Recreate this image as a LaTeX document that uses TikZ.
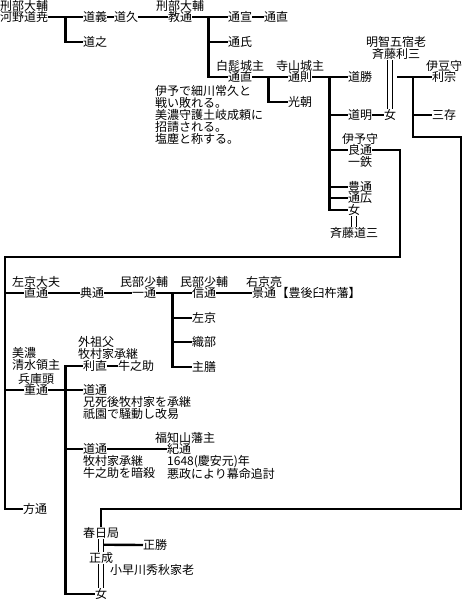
\documentclass[tikz,border=0pt]{standalone}
\usepackage{fontspec}
\setmainfont{Noto Sans CJK JP}
\usetikzlibrary{positioning, calc}

\begin{document}
\begin{tikzpicture}[x=1pt, y=-1pt,
  every node/.style={font=\fontsize{12}{12}\selectfont},
  personnode/.style={inner sep=0pt, anchor=west},
  ranknode/.style={inner sep=0pt},
  memonode/.style={inner sep=0pt, anchor=north west, align=left},
  kin/.style={line width=2.4pt},
  wed/.style={double, double distance=4pt, line width=0.8pt}]
\useasboundingbox (0,0) rectangle (468,612);

% Kono line
\node[personnode] (michitaka) at (0,17) {河野道尭};
\node[ranknode, above=0pt of michitaka] (r1) {刑部大輔};
\node[personnode] (michiyoshi) at (83,17) {道義};
\node[personnode] (michiyuki) at (83,42) {道之};
\node[personnode] (michihisa) at (114,17) {道久};
\node[personnode] (norimichi) at (168,17) {教通};
\node[ranknode, above=0pt of norimichi] (r2) {刑部大輔};
\node[personnode] (michinobu) at (228,17) {通宣};
\node[personnode] (michinaoA) at (264,17) {通直};
\node[personnode] (michiuji) at (228,42) {通氏};
\node[personnode] (michinao) at (228,77) {通直};
\node[ranknode, above=0pt of michinao] (r3) {白髭城主};
\node[memonode] (memoA) at (155,85) {伊予で細川常久と\\戦い敗れる。\\美濃守護土岐成頼に\\招請される。\\塩塵と称する。};
\node[personnode] (michinori) at (288,77) {通則};
\node[ranknode, above=0pt of michinori] (r4) {寺山城主};
\node[personnode] (mitsutomo) at (288,102) {光朝};
\node[personnode] (michikatsu) at (348,77) {道勝};
\node[personnode] (michiaki) at (348,115) {道明};
\node[personnode] (onnaA) at (384,115) {女};
\node[personnode] (toshimitsu) at (372,54) {斉藤利三};
\node[ranknode, above=0pt of toshimitsu] (r5) {明智五宿老};
\node[personnode] (toshimune) at (432,77) {利宗};
\node[ranknode, above=0pt of toshimune] (r6) {伊豆守};
\node[personnode] (sanzon) at (432,115) {三存};
\node[personnode] (yoshimichi) at (348,150) {良通};
\node[ranknode, above=0pt of yoshimichi] (r7) {伊予守};
\node[ranknode, below=0pt of yoshimichi] (r8) {一鉄};
\node[personnode] (toyomichi) at (348,187) {豊通};
\node[personnode] (michihiro) at (348,198) {通広};
\node[personnode] (onnaB) at (348,210) {女};
\node[personnode] (dousan) at (330,233) {斉藤道三};

% Naomichi line
\node[personnode] (naomichi) at (24,293) {直通};
\node[ranknode, above=0pt of naomichi] (r9) {左京大夫};
\node[personnode] (tenmichi) at (80,293) {典通};
\node[personnode] (kazumichi) at (132,293) {一通};
\node[ranknode, above=0pt of kazumichi] (r10) {民部少輔};
\node[personnode] (nobumichi) at (192,293) {信通};
\node[ranknode, above=0pt of nobumichi] (r11) {民部少輔};
\node[personnode] (kagemichi) at (252,293) {景通};
\node[ranknode, above=0pt of kagemichi] (r12) {右京亮};
\node[personnode, right=0pt of kagemichi] (usuki) {【豊後臼杵藩】};
\node[personnode] (sakyo) at (192,318) {左京};
\node[personnode] (oribe) at (192,342) {織部};
\node[personnode] (shuzen) at (192,367) {主膳};

% Shigemichi line
\node[personnode] (shigemichi) at (24,390) {重通};
\node[ranknode, above=0pt of shigemichi] (r13) {兵庫頭};
\node[memonode] (r14) at (12,347) {美濃\\清水領主};
\node[memonode] (r15) at (78,336) {外祖父\\牧村家承継};
\node[personnode] (toshinao) at (83,366) {利直};
\node[personnode] (ushinosuke) at (118,366) {牛之助};
\node[personnode] (michimichiA) at (83,390) {道通};
\node[memonode] (memoB) at (83,396) {兄死後牧村家を承継\\祇園で騒動し改易};
\node[personnode] (michimichiB) at (83,449) {道通};
\node[memonode] (memoC) at (83,455) {牧村家承継\\牛之助を暗殺};
\node[personnode] (norimichiB) at (167,449) {紀通};
\node[personnode] (r16) at (155,438) {福知山藩主};
\node[memonode] (memoD) at (167,455) {1648(慶安元)年\\悪政により幕命追討};
\node[personnode] (masamichi) at (23,509) {方通};

% Kasuga no tsubone
\node[personnode, anchor=center] (kasuga) at (101,533) {春日局};
\node[personnode, anchor=center] (masanari) at (101,558) {正成};
\node[personnode] (masakatsu) at (143,545) {正勝};
\node[personnode] (r17) at (110,570) {小早川秀秋家老};
\node[personnode, anchor=center] (onnaC) at (101,594) {女};

% connectors, top part
\draw[kin] (michitaka.east) -- (michiyoshi.west);
\draw[kin] (michitaka.east) ++(17,0) |- (michiyuki.west);
\draw[kin] (michiyoshi) -- (michihisa) -- (norimichi) -- (michinobu) -- (michinaoA);
\draw[kin] (norimichi.east) ++(16,0) |- (michiuji.west);
\draw[kin] (norimichi.east) ++(16,0) |- (michinao.west);
\draw[kin] (michinao) -- (michinori) -- (michikatsu);
\draw[kin] (michinao.east) ++(16,0) |- (mitsutomo.west);
\coordinate (c1) at ($(michinori.east)+(17,0)$);
\foreach \k in {michiaki, yoshimichi, toyomichi, michihiro, onnaB}
  \draw[kin] (c1) |- (\k.west);
\draw[kin] (michiaki) -- (onnaA);
\draw[wed] (onnaA.north) -- (onnaA.north |- toshimitsu.south);
\draw[wed] (onnaB.south) -- (onnaB.south |- dousan.north);

% Toshimitsu's children
\coordinate (c2) at (397,77);
\coordinate (c3) at (413,77);
\coordinate (c4) at (461,137);
\coordinate (c5) at (461,509);
\draw[kin] (c2) -- (toshimune.west);
\draw[kin] (c3) |- (sanzon.west);
\draw[kin] (c3) |- (c4) -- (c5) -| (kasuga.north);

% Yoshimichi's children
\coordinate (c6) at (400,257);
\coordinate (c7) at (5,257);
\draw[kin] (yoshimichi.east) -| (c6) -- (c7) |- (masamichi.west);
\draw[kin] (c7) |- (naomichi.west);
\draw[kin] (c7) |- (shigemichi.west);
\draw[kin] (naomichi) -- (tenmichi) -- (kazumichi) -- (nobumichi) -- (kagemichi);
\coordinate (c8) at ($(kazumichi.east)+(16,0)$);
\foreach \k in {sakyo, oribe, shuzen}
  \draw[kin] (c8) |- (\k.west);

% Shigemichi's children
\coordinate (c9) at ($(shigemichi.east)+(17,0)$);
\draw[kin] (shigemichi) -- (michimichiA);
\foreach \k in {toshinao, michimichiB, onnaC}
  \draw[kin] (c9) |- (\k.west);
\draw[kin] (toshinao) -- (ushinosuke);
\draw[kin] (michimichiB) -- (norimichiB);

% Kasuga = Masanari
\draw[wed] (kasuga.south) -- (masanari.north);
\draw[wed] (masanari.south) -- (onnaC.north);
\coordinate (c10) at ($(kasuga.south)+(3,6)$);
\draw[kin] (c10) -- (masakatsu.west);
\end{tikzpicture}
\end{document}
